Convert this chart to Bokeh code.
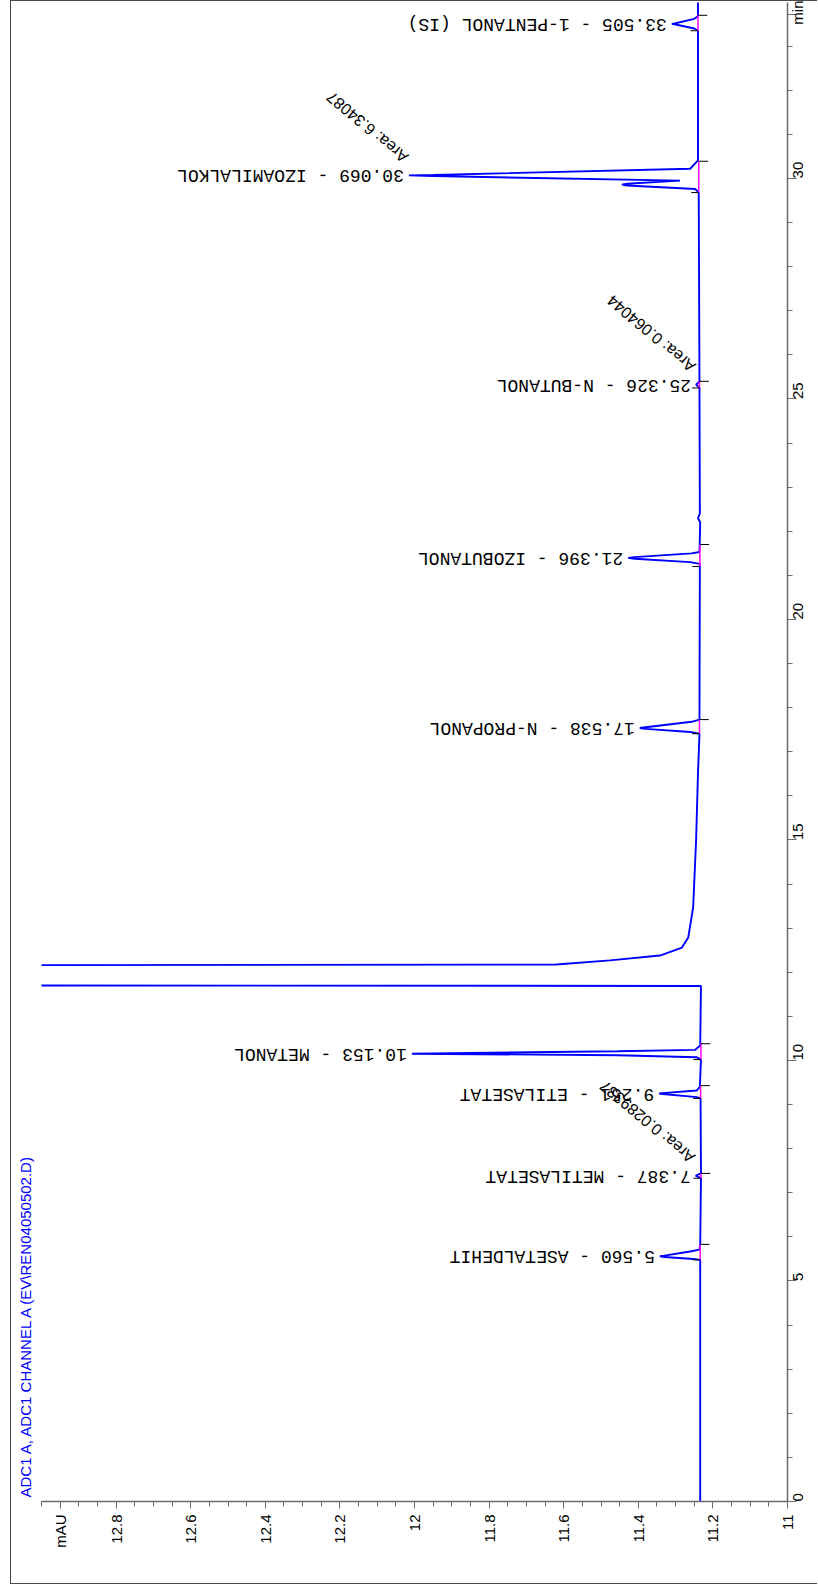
import math
import numpy as np
from bokeh.plotting import figure
from bokeh.models import Range1d, FixedTicker, Title, ColumnDataSource
from bokeh.core.properties import value
from bokeh.embed import file_html
from bokeh.resources import INLINE

# ---------------- data ----------------
trace_time = [
    0.00, 2.50, 5.48, 5.50, 5.545, 5.560, 5.575, 5.67, 5.71, 5.83,
    7.33, 7.387, 7.44,
    9.14, 9.17, 9.24, 9.251, 9.26, 9.32, 9.40,
    10.02, 10.075, 10.12, 10.153, 10.21, 10.24, 10.34,
    11.69, 11.705, 11.95, 12.16, 12.175, 12.27, 12.38, 12.56, 12.79, 13.47, 15.00, 16.50,
    17.41, 17.45, 17.52, 17.538, 17.555, 17.68, 17.73,
    21.26, 21.30, 21.376, 21.396, 21.414, 21.50, 21.53,
    22.20, 22.30, 22.40,
    25.25, 25.326, 25.40,
    29.68, 29.76, 29.84, 29.86, 29.88, 29.95, 30.055, 30.069, 30.08, 30.22, 30.41,
    33.35, 33.40, 33.49, 33.505, 33.52, 33.62, 33.68, 34.00,
]
trace_mau = [
    11.234, 11.234, 11.234, 11.252, 11.330, 11.342, 11.330, 11.261, 11.236, 11.234,
    11.232, 11.246, 11.232,
    11.233, 11.243, 11.335, 11.344, 11.335, 11.243, 11.235,
    11.232, 11.244, 11.455, 12.007, 11.455, 11.248, 11.234,
    11.232, 13.600, 15.000, 13.200, 11.620, 11.476, 11.342, 11.283, 11.266, 11.253, 11.245, 11.240,
    11.236, 11.261, 11.380, 11.396, 11.380, 11.257, 11.236,
    11.235, 11.261, 11.410, 11.427, 11.410, 11.257, 11.236,
    11.234, 11.240, 11.235,
    11.236, 11.245, 11.236,
    11.238, 11.247, 11.430, 11.444, 11.430, 11.288, 11.950, 12.015, 11.950, 11.261, 11.240,
    11.240, 11.250, 11.300, 11.310, 11.300, 11.250, 11.240, 11.240,
]

# integrated peaks: retention time, name, apex height, integration start / end, baseline level
peak_rt = [5.560, 7.387, 9.251, 10.153, 17.538, 21.396, 25.326, 30.069, 33.505]
peak_name = ["ASETALDEHIT", "METILASETAT", "ETILASETAT", "METANOL", "N-PROPANOL",
             "IZOBUTANOL", "N-BUTANOL", "IZOAMILALKOL", "1-PENTANOL (IS)"]
peak_apex = [11.342, 11.246, 11.344, 12.007, 11.396, 11.427, 11.245, 12.015, 11.310]
peak_start = [5.48, 7.33, 9.14, 10.02, 17.41, 21.20, 25.25, 29.68, 33.35]
peak_end = [5.83, 7.44, 9.43, 10.38, 17.73, 21.70, 25.40, 30.39, 33.70]
peak_base = [11.234, 11.232, 11.233, 11.232, 11.236, 11.235, 11.236, 11.238, 11.240]

# area annotations
area_rt = [7.387, 25.326, 30.069]
area_apex = [11.246, 11.245, 12.015]
area_value = [0.0289337, 0.064044, 6.34087]

# axes (unit names sit at the far end of each axis)
mau_ticks = [11.0, 11.2, 11.4, 11.6, 11.8, 12.0, 12.2, 12.4, 12.6, 12.8, 12.95]
mau_tick_labels = ["11", "11.2", "11.4", "11.6", "11.8", "12", "12.2", "12.4", "12.6", "12.8", "mAU"]
time_ticks = [0, 5, 10, 15, 20, 25, 30, 33.72]
time_tick_labels = ["0", "5", "10", "15", "20", "25", "30", "min"]

title_text = "ADC1 A, ADC1 CHANNEL A (EV\\REN04050502.D)"

# ---------------- figure ----------------
FONT = "Liberation Sans"
AXC = "#6a6a6a"

p = figure(width=807, height=1584,
           x_range=Range1d(13.0, 11.0), y_range=Range1d(0, 33.99),
           x_axis_location="below", y_axis_location="right",
           output_backend="svg", toolbar_location=None,
           min_border_left=31, min_border_right=30,
           min_border_top=2, min_border_bottom=83)
p.margin = (0, 0, 0, 10)
# outer frame of the printout (left, top and bottom edges)
p.styles = {"box-shadow": "inset 1px 1px 0 #4a4a4a, inset 0 -1px 0 #4a4a4a",
            "background-color": "white"}
p.grid.visible = False
p.outline_line_color = None
p.background_fill_color = None
p.border_fill_color = None

mau_minor = [round(v, 2) for v in np.arange(11.0, 13.0001, 0.05) if round(v, 2) not in mau_ticks]
time_minor = [v for v in range(0, 34) if v not in time_ticks]

xa = p.xaxis[0]
xa.ticker = FixedTicker(ticks=mau_ticks, minor_ticks=mau_minor)
xa.major_label_overrides = {t: l for t, l in zip(mau_ticks, mau_tick_labels)}
xa.major_label_orientation = math.pi / 2
xa.major_tick_in = 0
xa.major_tick_out = 7
xa.minor_tick_in = 0
xa.minor_tick_out = 5
xa.major_label_standoff = 6

ya = p.yaxis[0]
ya.ticker = FixedTicker(ticks=time_ticks, minor_ticks=time_minor)
ya.major_label_overrides = {t: l for t, l in zip(time_ticks, time_tick_labels)}
ya.major_label_orientation = math.pi / 2
ya.major_tick_in = 0
ya.major_tick_out = 9
ya.minor_tick_in = 0
ya.minor_tick_out = 5
ya.major_label_standoff = 1

for ax in (xa, ya):
    ax.axis_line_color = AXC
    ax.axis_line_width = 1.5
    ax.major_tick_line_color = AXC
    ax.minor_tick_line_color = AXC
    ax.major_tick_line_width = 1
    ax.minor_tick_line_width = 1
    ax.major_label_text_font = FONT
    ax.major_label_text_font_size = "15px"
    ax.major_label_text_color = "black"

# chromatogram trace
p.line(trace_mau, trace_time, line_color="#0000ff", line_width=1.9)

# integration baselines (magenta) and start / end marks
p.segment(x0=peak_base, y0=peak_start, x1=peak_base, y1=peak_end,
          line_color="#ff00ff", line_width=1.5)
p.segment(x0=peak_base, y0=peak_start, x1=[b + 0.02 for b in peak_base], y1=peak_start,
          line_color="black", line_width=1)
p.segment(x0=peak_base, y0=peak_end, x1=[b - 0.025 for b in peak_base], y1=peak_end,
          line_color="black", line_width=1)

# peak labels
lab_src = ColumnDataSource(dict(
    x=peak_apex, y=peak_rt,
    text=[f"{rt:.3f} - {nm}" for rt, nm in zip(peak_rt, peak_name)]))
p.text(x="x", y="y", text="text", source=lab_src, angle=math.pi,
       text_align="left", text_baseline="middle", x_offset=-5,
       text_font=value("Liberation Mono"), text_font_size="18px", text_color="black")

# area labels
area_src = ColumnDataSource(dict(
    x=area_apex, y=area_rt, text=[f"Area: {a:g}" for a in area_value]))
p.text(x="x", y="y", text="text", source=area_src, angle=math.radians(140),
       text_align="left", text_baseline="middle", x_offset=-3, y_offset=-16,
       text_font=value(FONT), text_font_size="16px", text_color="black")

# signal title, vertical at the left
p.add_layout(Title(text=title_text, align="left", vertical_align="top",
                   text_color="#0000ff",
                   text_font=FONT, text_font_size="15px", text_font_style="normal",
                   standoff=12, offset=4), "left")

open("out.html", "w").write(file_html(p, INLINE))
